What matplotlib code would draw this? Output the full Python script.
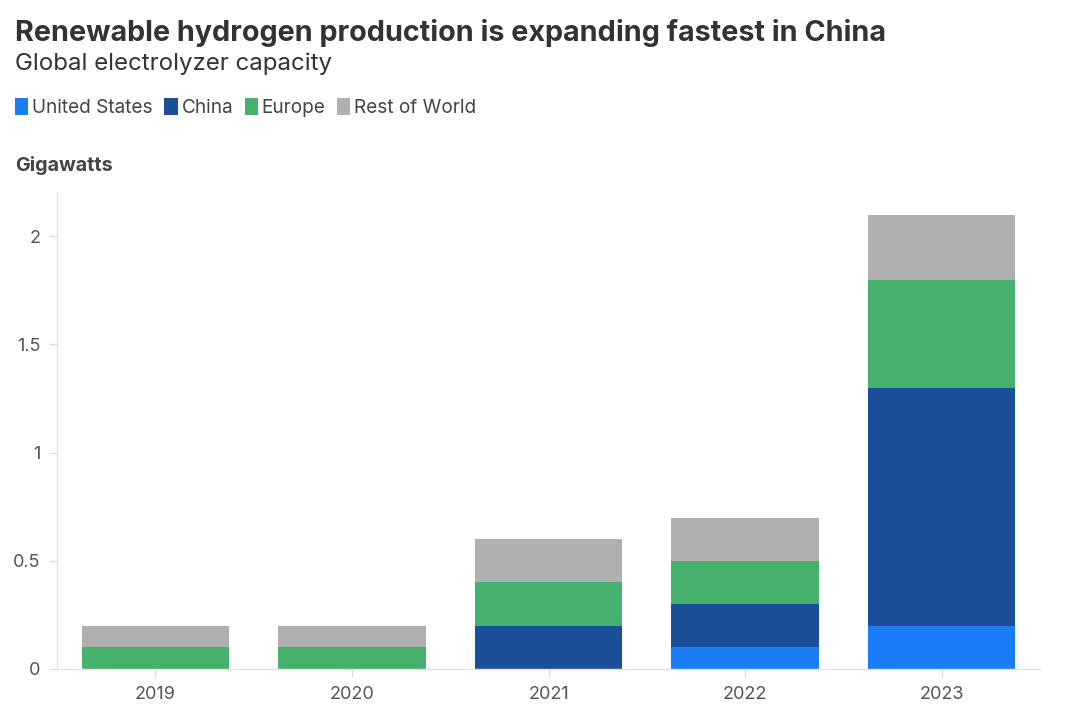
import numpy as np
import matplotlib.pyplot as plt
from matplotlib.patches import Patch

plt.rcParams['font.family'] = ['Inter', 'DejaVu Sans']

years = ['2019', '2020', '2021', '2022', '2023']
us = [0, 0, 0, 0.1, 0.2]
china = [0, 0, 0.2, 0.2, 1.1]
europe = [0.1, 0.1, 0.2, 0.2, 0.5]
rest = [0.1, 0.1, 0.2, 0.2, 0.3]

series = ['United States', 'China', 'Europe', 'Rest of World']
colors = ['#1a7cf7', '#1b4f9a', '#45b16d', '#b0b0b0']


def main():
    fig = plt.figure(figsize=(10.8, 7.12), dpi=100)
    ax = fig.add_axes([0.0528, 0.0604, 0.9102, 0.6686])

    x = np.arange(len(years))
    bottom = np.zeros(len(years))
    for vals, name, c in zip([us, china, europe, rest], series, colors):
        ax.bar(x, vals, width=0.75, bottom=bottom, color=c, label=name, linewidth=0)
        bottom += np.array(vals)

    ax.set_xlim(-0.5, 4.5)
    ax.set_ylim(0, 2.2)
    ax.set_xticks(x)
    ax.set_xticklabels(years)
    ax.set_yticks([0, 0.5, 1, 1.5, 2])
    ax.set_yticklabels(['0', '0.5', '1', '1.5', '2'])
    ax.tick_params(axis='both', colors='#dddddd', labelcolor='#555555', labelsize=13, length=6, width=1)
    ax.tick_params(axis='y', pad=6)
    ax.tick_params(axis='x', pad=6)
    for s in ['top', 'right']:
        ax.spines[s].set_visible(False)
    for s in ['left', 'bottom']:
        ax.spines[s].set_color('#e3e3e3')
        ax.spines[s].set_linewidth(1)

    fig.text(0.014, 0.953, 'Renewable hydrogen production is expanding fastest in China',
             fontsize=20.7, fontweight='bold', color='#333333', va='center')
    fig.text(0.014, 0.911, 'Global electrolyzer capacity', fontsize=17.3, color='#333333', va='center')
    fig.text(0.014, 0.768, 'Gigawatts', fontsize=14.2, fontweight='bold', color='#444444', va='center')

    handles = [Patch(facecolor=c, edgecolor='none', label=n) for n, c in zip(series, colors)]
    leg = fig.legend(handles=handles, loc='center left', bbox_to_anchor=(0.014, 0.849), ncol=4,
                     frameon=False, handlelength=0.7, handleheight=1.0, handletextpad=0.2,
                     columnspacing=0.6, fontsize=13.7, borderpad=0, borderaxespad=0)
    for t in leg.get_texts():
        t.set_color('#444444')

    fig.savefig('out.png', dpi=100)


if __name__ == "__main__":
    main()
